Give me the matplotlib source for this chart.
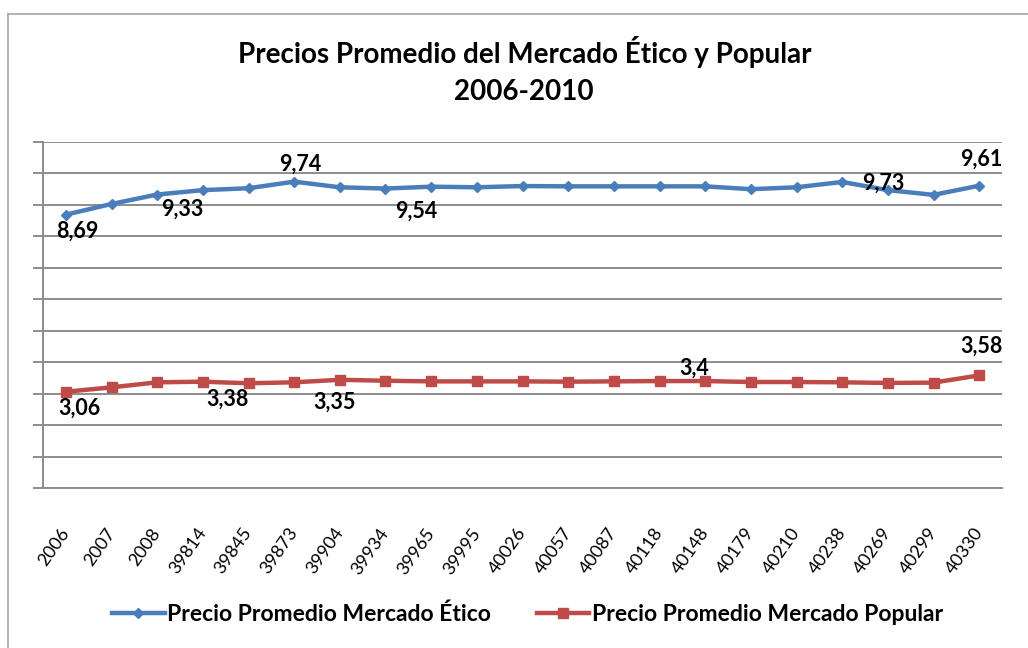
import matplotlib
matplotlib.use("Agg")
import matplotlib.pyplot as plt
from matplotlib.lines import Line2D
import numpy as np

plt.rcParams['font.family'] = ['Lato', 'DejaVu Sans']

# Datos
categorias = ['2006', '2007', '2008', '39814', '39845', '39873', '39904',
              '39934', '39965', '39995', '40026', '40057', '40087', '40118',
              '40148', '40179', '40210', '40238', '40269', '40299', '40330']
etico = [8.69, 9.03, 9.33, 9.47, 9.53, 9.74, 9.56, 9.52, 9.58, 9.56, 9.60,
         9.59, 9.59, 9.59, 9.59, 9.50, 9.56, 9.73, 9.47, 9.32, 9.61]
popular = [3.06, 3.20, 3.36, 3.38, 3.33, 3.36, 3.44, 3.41, 3.39, 3.39, 3.39,
           3.38, 3.39, 3.40, 3.40, 3.37, 3.37, 3.36, 3.34, 3.35, 3.58]

# Etiquetas de datos (posicion en categoria, valor, texto)
etiq_x = [0.26, 2.55, 5.14, 7.68, 17.9, 20.05,
          0.29, 3.53, 5.88, 13.77, 20.05]
etiq_y = [8.17, 8.86, 10.30, 8.81, 9.69, 10.46,
          2.54, 2.81, 2.72, 3.82, 4.51]
etiq_txt = ['8,69', '9,33', '9,74', '9,54', '9,73', '9,61',
            '3,06', '3,38', '3,35', '3,4', '3,58']

azul = '#4A7EBB'
rojo = '#BE4B48'
gris = '#8C8C8C'

W, H = 1028, 648
fig = plt.figure(figsize=(W / 100, H / 100), dpi=100)

# Borde del grafico (solo visible arriba e izquierda)
fig.add_artist(Line2D([8 / W, 8 / W], [0, 1 - 14 / H], transform=fig.transFigure,
                      color='#A6A6A6', lw=1.2))
fig.add_artist(Line2D([8 / W, 1], [1 - 14 / H, 1 - 14 / H], transform=fig.transFigure,
                      color='#A6A6A6', lw=1.2))

ax = fig.add_axes([43 / W, (H - 488) / H, 959 / W, 346 / H])
x = np.arange(len(categorias))

ax.plot(x, etico, color=azul, lw=3.2, marker='D', ms=5, zorder=3,
        label='Precio Promedio Mercado Ético')
ax.plot(x, popular, color=rojo, lw=3.2, marker='s', ms=6.5, zorder=3,
        label='Precio Promedio Mercado Popular')

for tx, ty, t in zip(etiq_x, etiq_y, etiq_txt):
    ax.text(tx, ty, t, ha='center', va='center', fontsize=15.5,
            fontweight='bold', zorder=4)

ax.set_xlim(-0.5, len(categorias) - 0.5)
ax.set_ylim(0, 11)
ax.set_yticks(np.arange(0, 12, 1))
ax.set_yticklabels([])
ax.grid(axis='y', color=gris, lw=1.4)
ax.set_axisbelow(True)
for s in ['top', 'right']:
    ax.spines[s].set_visible(False)
for s in ['left', 'bottom']:
    ax.spines[s].set_color(gris)
    ax.spines[s].set_linewidth(1.4)
ax.tick_params(axis='y', length=7, color=gris, width=1.4)
ax.tick_params(axis='x', length=0, pad=30)
ax.set_xticks(x)
ax.set_xticklabels(categorias, rotation=55, ha='right', va='center',
                   rotation_mode='anchor', fontsize=13)
for lbl in ax.get_xticklabels():
    lbl.set_x(lbl.get_position()[0])

fig.text(0.51, 1 - 52 / H, 'Precios Promedio del Mercado Ético y Popular',
         ha='center', va='center', fontsize=20, fontweight='bold')
fig.text(0.51, 1 - 92 / H, '2006-2010', ha='center', va='center',
         fontsize=20, fontweight='bold')

fig.legend(loc='center', bbox_to_anchor=(0.513, 1 - 614 / H), ncol=2,
           frameon=False, prop={'weight': 'bold', 'size': 16.5},
           handlelength=2.3, handletextpad=0.1, columnspacing=2.0)

fig.savefig('out.png', dpi=100)
